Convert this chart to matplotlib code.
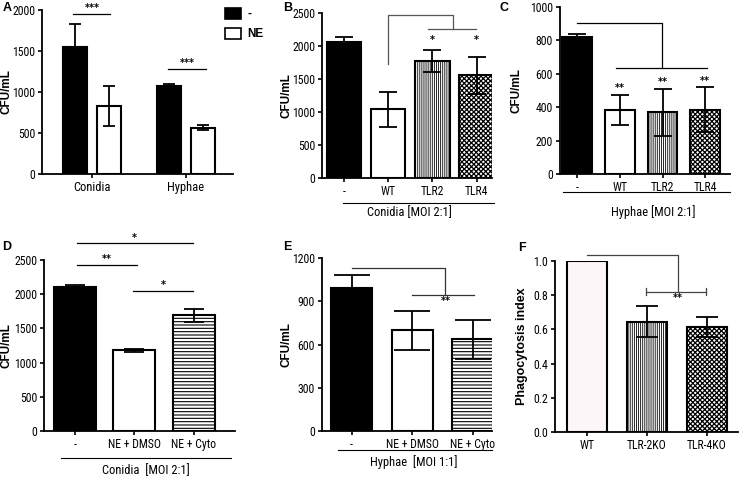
import matplotlib
matplotlib.use("Agg")
import matplotlib.pyplot as plt
import numpy as np
from matplotlib.ticker import FormatStrFormatter

# figure size in pixels
W, H = 739, 479

# A - CFU/mL, conidia vs hyphae
a_groups = ['Conidia', 'Hyphae']
a_ctrl = [1550, 1070]
a_ctrl_err = [280, 25]
a_ne = [830, 565]
a_ne_err = [245, 30]

# B - conidia [MOI 2:1]
b_labels = ['-', 'WT', 'TLR2', 'TLR4']
b_vals = [2060, 1040, 1770, 1560]
b_err = [80, 260, 170, 280]

# C - hyphae [MOI 2:1]
c_labels = ['-', 'WT', 'TLR2', 'TLR4']
c_vals = [820, 385, 370, 385]
c_err = [20, 90, 140, 135]

# D - conidia [MOI 2:1], cytochalasin
d_labels = ['-', 'NE + DMSO', 'NE + Cyto']
d_vals = [2110, 1180, 1690]
d_err = [20, 25, 100]

# E - hyphae [MOI 1:1], cytochalasin
e_labels = ['-', 'NE + DMSO', 'NE + Cyto']
e_vals = [990, 700, 635]
e_err = [90, 135, 133]

# F - phagocytosis index
f_labels = ['WT', 'TLR-2KO', 'TLR-4KO']
f_vals = [1.0, 0.645, 0.615]
f_err = [0.09, 0.06]

NARROW = ['Roboto Condensed', 'Liberation Sans Narrow', 'Liberation Sans', 'DejaVu Sans']
BOLD = ['Liberation Sans', 'DejaVu Sans']
TICK_FS = 8.5

plt.rcParams['axes.linewidth'] = 1.3

# bar styles: (facecolor, hatch, hatch linewidth)
BLACK = ('black', None, 0.7)
WHITE = ('white', None, 0.7)
VSTRIPE = ('white', '||||||||', 0.6)
CHECK = ('white', 'xxxxxxx', 0.9)
HSTRIPE = ('white', '-----', 0.8)
PINK = ('#fdf6f9', None, 0.7)

fig = plt.figure(figsize=(W / 100, H / 100), dpi=100)


def make_ax(left, top, right, bottom, ylim, yticks, xlim):
    ax = fig.add_axes([left / W, 1 - bottom / H, (right - left) / W, (bottom - top) / H])
    ax.spines[['top', 'right']].set_visible(False)
    ax.set_ylim(*ylim)
    ax.set_yticks(yticks)
    ax.set_xlim(*xlim)
    ax.tick_params(length=3, width=1.2, pad=2, labelsize=TICK_FS)
    for lab in ax.get_yticklabels():
        lab.set_family(NARROW)
    return ax


def draw_bars(ax, x, vals, err, styles, width, capsize):
    for xi, v, (fc, h, hlw) in zip(x, vals, styles):
        with plt.rc_context({'hatch.linewidth': hlw}):
            ax.bar(xi, v, width, color=fc, edgecolor='black', linewidth=1.5, hatch=h, zorder=2)
    if err is not None:
        ax.errorbar(x, vals, yerr=err, fmt='none', ecolor='black', elinewidth=1.3,
                    capsize=capsize, capthick=1.3, zorder=3)


def set_xlabels(ax, labels):
    ax.set_xticks(range(len(labels)))
    ax.set_xticklabels(labels, family=NARROW, fontsize=TICK_FS)


def ylabel(ax, text, xpx, left, top, right, bottom, size=8.5):
    ax.set_ylabel(text, fontsize=size, fontweight='bold', family=BOLD)
    ax.yaxis.set_label_coords((xpx - left) / (right - left), 0.5)


def stars(ax, x, y, s, size=7):
    ax.text(x, y, s, ha='center', va='bottom', fontsize=size, fontweight='bold', clip_on=False)


def group_line(ax, x0, x1, yline, ytext, xtext, text):
    tr = ax.get_xaxis_transform()
    ax.plot([x0, x1], [yline, yline], color='black', lw=0.8, transform=tr, clip_on=False)
    ax.text(xtext, ytext, text, transform=tr, ha='center', va='center', fontsize=9, family=NARROW)


def panel_letter(xpx, ypx, s):
    fig.text(xpx / W, 1 - ypx / H, s, fontsize=9, fontweight='bold', family=BOLD, va='center')


# ---------- A ----------
box = (42, 10, 233, 174)
axA = make_ax(*box, (0, 2000), [0, 500, 1000, 1500, 2000], (-0.53, 1.5))
xa = np.arange(len(a_groups))
draw_bars(axA, xa - 0.18, a_ctrl, a_ctrl_err, [BLACK, BLACK], 0.26, 4.5)
draw_bars(axA, xa + 0.18, a_ne, a_ne_err, [WHITE, WHITE], 0.26, 4.5)
axA.set_xticks(xa)
axA.set_xticklabels(a_groups, family=NARROW, fontsize=TICK_FS + 0.5)
ylabel(axA, 'CFU/mL', 13, *box)
axA.plot([-0.2, 0.19], [1950, 1950], color='black', lw=0.9, clip_on=False)
stars(axA, 0.0, 1960, '***')
axA.plot([0.81, 1.21], [1280, 1280], color='black', lw=0.9)
stars(axA, 1.01, 1290, '***')
# legend
fig.patches.append(plt.Rectangle((225 / W, 1 - 19 / H), 16 / W, 11 / H, facecolor='black',
                                 edgecolor='black', lw=1.2, transform=fig.transFigure))
fig.patches.append(plt.Rectangle((225 / W, 1 - 39 / H), 16 / W, 11 / H, facecolor='white',
                                 edgecolor='black', lw=1.2, transform=fig.transFigure))
fig.text(247 / W, 1 - 14 / H, '-', fontsize=8.5, fontweight='bold', family=BOLD, va='center')
fig.text(247 / W, 1 - 34 / H, 'NE', fontsize=8.5, fontweight='bold', family=BOLD, va='center')

# ---------- B ----------
box = (322, 13, 492, 178)
axB = make_ax(*box, (0, 2500), [0, 500, 1000, 1500, 2000, 2500], (-0.5, 3.35))
xb = np.arange(len(b_labels))
draw_bars(axB, xb, b_vals, b_err, [BLACK, WHITE, VSTRIPE, CHECK], 0.78, 6.5)
set_xlabels(axB, b_labels)
ylabel(axB, 'CFU/mL', 292, *box)
axB.plot([1, 1, 2.46, 2.46], [1720, 2465, 2465, 2263], color='#555555', lw=0.9, clip_on=False)
axB.plot([1.91, 2.98], [2263, 2263], color='#555555', lw=0.9)
stars(axB, 2, 2020, '*')
stars(axB, 3, 2020, '*')
group_line(axB, -0.02, 3.4, -0.15, -0.21, 1.47, 'Conidia [MOI 2:1]')

# ---------- C ----------
box = (560, 7, 730, 174)
axC = make_ax(*box, (0, 1000), [0, 200, 400, 600, 800, 1000], (-0.4, 3.58))
xc = np.arange(len(c_labels))
draw_bars(axC, xc, c_vals, c_err, [BLACK, WHITE, VSTRIPE, CHECK], 0.7, 6.5)
set_xlabels(axC, c_labels)
ylabel(axC, 'CFU/mL', 523, *box)
axC.plot([0, 1.98, 1.98], [904, 904, 634], color='black', lw=0.9)
axC.plot([0.91, 3.03], [634, 634], color='black', lw=0.9)
for xi, v, e in zip(xc[1:], c_vals[1:], c_err[1:]):
    stars(axC, xi, v + e + 8, '**')
group_line(axC, -0.33, 3.58, -0.108, -0.23, 1.79, 'Hyphae [MOI 2:1]')

# ---------- D ----------
box = (44, 260, 235, 431)
axD = make_ax(*box, (0, 2500), [0, 500, 1000, 1500, 2000, 2500], (-0.53, 2.7))
xd = np.arange(len(d_labels))
draw_bars(axD, xd, d_vals, d_err, [BLACK, WHITE, HSTRIPE], 0.71, 7)
set_xlabels(axD, d_labels)
ylabel(axD, 'CFU/mL', 13, *box)
axD.plot([0.02, 1.99], [2744, 2744], color='black', lw=0.9, clip_on=False)
stars(axD, 1.0, 2754, '*')
axD.plot([0.02, 1.04], [2427, 2427], color='black', lw=0.9, clip_on=False)
stars(axD, 0.53, 2437, '**')
axD.plot([0.98, 1.99], [2051, 2051], color='black', lw=0.9)
stars(axD, 1.48, 2061, '*')
group_line(axD, -0.25, 2.63, -0.158, -0.23, 1.19, 'Conidia  [MOI 2:1]')

# ---------- E ----------
box = (322, 258, 492, 431)
axE = make_ax(*box, (0, 1200), [0, 300, 600, 900, 1200], (-0.49, 2.32))
xe = np.arange(len(e_labels))
draw_bars(axE, xe, e_vals, e_err, [BLACK, WHITE, HSTRIPE], 0.68, 13)
set_xlabels(axE, e_labels)
ylabel(axE, 'CFU/mL', 292, *box)
axE.plot([0.01, 1.55, 1.55], [1130, 1130, 945], color='#333333', lw=0.9)
axE.plot([1.0, 2.02], [945, 945], color='#333333', lw=0.9)
axE.text(1.55, 935, '**', ha='center', va='top', fontsize=7, fontweight='bold')
group_line(axE, -0.22, 2.32, -0.11, -0.18, 1.02, 'Hyphae  [MOI 1:1]')

# ---------- F ----------
box = (555, 261, 738, 432)
axF = make_ax(*box, (0, 1.0), [0, 0.2, 0.4, 0.6, 0.8, 1.0], (-0.53, 2.52))
xf = np.arange(len(f_labels))
draw_bars(axF, xf, f_vals, None, [PINK, VSTRIPE, CHECK], 0.67, 8)
axF.errorbar(xf[1:], f_vals[1:], yerr=f_err, fmt='none', ecolor='black', elinewidth=1.3,
             capsize=8, capthick=1.3, zorder=3)
set_xlabels(axF, f_labels)
axF.yaxis.set_major_formatter(FormatStrFormatter('%.1f'))
for lab in axF.get_yticklabels():
    lab.set_family(NARROW)
ylabel(axF, 'Phagocytosis index', 528, *box, size=9)
axF.plot([0, 1.52, 1.52], [1.035, 1.035, 0.821], color='#444444', lw=0.9, clip_on=False)
axF.plot([0.99, 1.99], [0.821, 0.821], color='#444444', lw=0.9)
axF.plot([0.99, 0.99], [0.80, 0.842], color='#444444', lw=0.9)
axF.plot([1.99, 1.99], [0.80, 0.842], color='#444444', lw=0.9)
axF.text(1.52, 0.81, '**', ha='center', va='top', fontsize=7, fontweight='bold')

panel_letter(3, 8, 'A')
panel_letter(283, 8, 'B')
panel_letter(500, 8, 'C')
panel_letter(2, 247, 'D')
panel_letter(283, 247, 'E')
panel_letter(518, 248, 'F')

fig.savefig('out.png', dpi=100)
